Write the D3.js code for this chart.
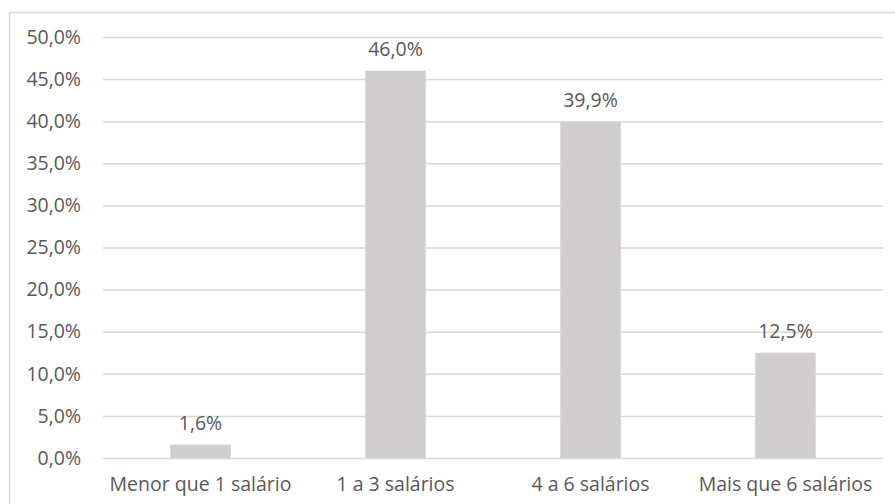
<!DOCTYPE html>
<html>
<head>
<meta charset="utf-8">
<script src="https://cdn.jsdelivr.net/npm/d3@7"></script>
<style>
  html, body { margin: 0; padding: 0; background: #fff; }
  svg { display: block; }
</style>
</head>
<body>
<svg id="chart" width="895" height="504"></svg>
<script>
// Distribuição por faixa salarial (%)
const categories = ["Menor que 1 salário", "1 a 3 salários", "4 a 6 salários", "Mais que 6 salários"];
const values = [1.6, 46.0, 39.9, 12.5];
const yTicks = [0, 5, 10, 15, 20, 25, 30, 35, 40, 45, 50];

const svg = d3.select("#chart");
const W = 895, H = 504;
const plot = { left: 103, right: 883, top: 37, bottom: 458 };
const font = "'Open Sans', sans-serif";
const fontSize = "19.5px";
const textColor = "#595959";

const fmt = v => d3.format(".1f")(v).replace(".", ",") + "%";

// Chart frame (top and left edges)
svg.append("path")
  .attr("d", `M9.5,${H} V12.5 H${W}`)
  .attr("fill", "none")
  .attr("stroke", "#d9d9d9")
  .attr("stroke-width", 1.5);

const x = d3.scaleBand()
  .domain(categories)
  .range([plot.left, plot.right])
  .paddingInner(0.69)
  .paddingOuter(0.345);

const y = d3.scaleLinear()
  .domain([0, 50])
  .range([plot.bottom, plot.top]);

// Gridlines + y labels
const yAxis = d3.axisLeft(y)
  .tickValues(yTicks)
  .tickSize(-(plot.right - plot.left))
  .tickPadding(22)
  .tickFormat(fmt);

const gy = svg.append("g")
  .attr("transform", `translate(${plot.left},0)`)
  .call(yAxis);
gy.select(".domain").remove();
gy.selectAll(".tick line").attr("stroke", "#d9d9d9").attr("stroke-width", 1.5);
gy.selectAll(".tick text")
  .attr("fill", textColor)
  .style("font-family", font)
  .style("font-size", fontSize);

// Bars
svg.append("g").selectAll("rect")
  .data(values)
  .join("rect")
  .attr("x", (d, i) => x(categories[i]))
  .attr("width", x.bandwidth())
  .attr("y", d => y(d))
  .attr("height", d => y(0) - y(d))
  .attr("fill", "#d0cece");

// Value labels
svg.append("g").selectAll("text")
  .data(values)
  .join("text")
  .attr("x", (d, i) => x(categories[i]) + x.bandwidth() / 2)
  .attr("y", d => y(d) - 15)
  .attr("text-anchor", "middle")
  .attr("fill", textColor)
  .style("font-family", font)
  .style("font-size", fontSize)
  .text(d => fmt(d));

// Category axis
const gx = svg.append("g")
  .attr("transform", `translate(0,${plot.bottom})`)
  .call(d3.axisBottom(x).tickSize(0).tickPadding(19));
gx.select(".domain").remove();
gx.selectAll(".tick text")
  .attr("fill", textColor)
  .style("font-family", font)
  .style("font-size", fontSize);
</script>
</body>
</html>
